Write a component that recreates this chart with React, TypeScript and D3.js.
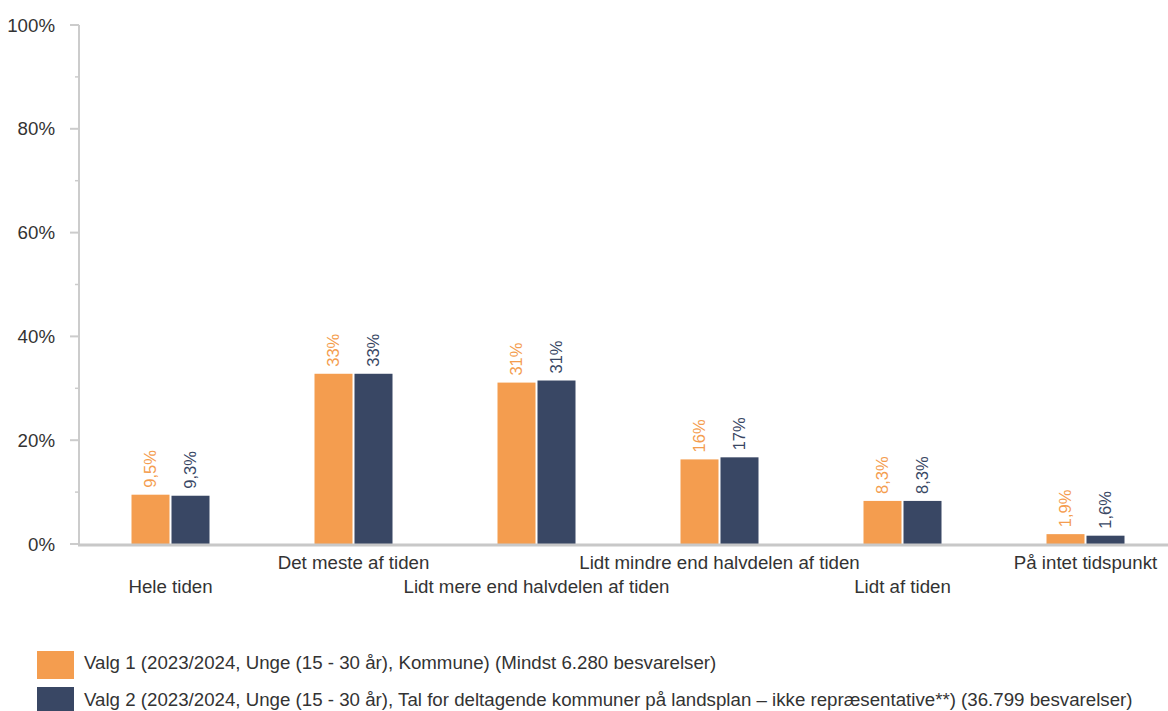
import React from "react";
import * as d3 from "d3";

const categories = [
  "Hele tiden",
  "Det meste af tiden",
  "Lidt mere end halvdelen af tiden",
  "Lidt mindre end halvdelen af tiden",
  "Lidt af tiden",
  "På intet tidspunkt",
];
const series1 = [9.5, 32.8, 31.1, 16.3, 8.3, 1.9];
const series2 = [9.3, 32.8, 31.5, 16.7, 8.3, 1.6];
const labels1 = ["9,5%", "33%", "31%", "16%", "8,3%", "1,9%"];
const labels2 = ["9,3%", "33%", "31%", "17%", "8,3%", "1,6%"];
const seriesNames = [
  "Valg 1 (2023/2024, Unge (15 - 30 år), Kommune) (Mindst 6.280 besvarelser)",
  "Valg 2 (2023/2024, Unge (15 - 30 år), Tal for deltagende kommuner på landsplan – ikke repræsentative**) (36.799 besvarelser)",
];
const colors = ["#F49D4F", "#394764"];
const yTicks = [0, 20, 40, 60, 80, 100];
const yMinor = [10, 30, 50, 70, 90];

export default function App() {
  const W = 1168, H = 711;
  const x0 = 79, plotTop = 25, plotBottom = 544;
  const y = d3.scaleLinear().domain([0, 100]).range([plotBottom, plotTop]);
  const x = d3.scaleBand().domain(categories).range([x0, x0 + 6 * 183]).paddingInner(0).paddingOuter(0);
  const barW = 38, gap = 2;
  const font = "'Liberation Sans', Arial, sans-serif";
  const series = [series1, series2];
  const labels = [labels1, labels2];
  const fs = 18.7;

  return (
    <svg width={W} height={H} style={{ position: "absolute", left: 0, top: 0, fontFamily: font }}>
      {/* y axis */}
      <line x1={x0} x2={x0} y1={plotTop} y2={plotBottom} stroke="#cccccc" strokeWidth={2} />
      {yTicks.map((t) => (
        <g key={t}>
          <line x1={70} x2={x0} y1={y(t)} y2={y(t)} stroke="#cccccc" strokeWidth={2} />
          <text x={55} y={y(t)} dy="0.35em" textAnchor="end" fontSize={fs} fill="#333">
            {t}%
          </text>
        </g>
      ))}
      {yMinor.map((t) => (
        <line key={t} x1={75} x2={x0} y1={y(t)} y2={y(t)} stroke="#cccccc" strokeWidth={1.5} />
      ))}
      {/* bars */}
      {categories.map((c, i) => {
        const cx = (x(c) as number) + x.bandwidth() / 2;
        return (
          <g key={c}>
            {series.map((s, k) => {
              const bx = k === 0 ? cx - gap / 2 - barW : cx + gap / 2;
              const top = y(s[i]);
              const lx = bx + barW / 2;
              const ly = top - 7;
              return (
                <g key={k}>
                  <rect x={bx} y={top} width={barW} height={plotBottom - top} fill={colors[k]} />
                  <text
                    transform={`translate(${lx + 5},${ly}) rotate(-90)`}
                    fontSize={16.5}
                    fill={colors[k]}
                    textAnchor="start"
                  >
                    {labels[k][i]}
                  </text>
                </g>
              );
            })}
            <text x={cx} y={i % 2 === 0 ? 593 : 569} textAnchor="middle" fontSize={fs} fill="#333">
              {c}
            </text>
          </g>
        );
      })}
      {/* x axis */}
      <line x1={x0 - 1} x2={W} y1={plotBottom + 1} y2={plotBottom + 1} stroke="#c8c8c8" strokeWidth={3} />
      {/* legend */}
      {seriesNames.map((n, k) => (
        <g key={k}>
          <rect x={37} y={651 + k * 36} width={37} height={28} fill={colors[k]} />
          <text x={84} y={669 + k * 37} fontSize={fs} fill="#333">
            {n}
          </text>
        </g>
      ))}
    </svg>
  );
}
